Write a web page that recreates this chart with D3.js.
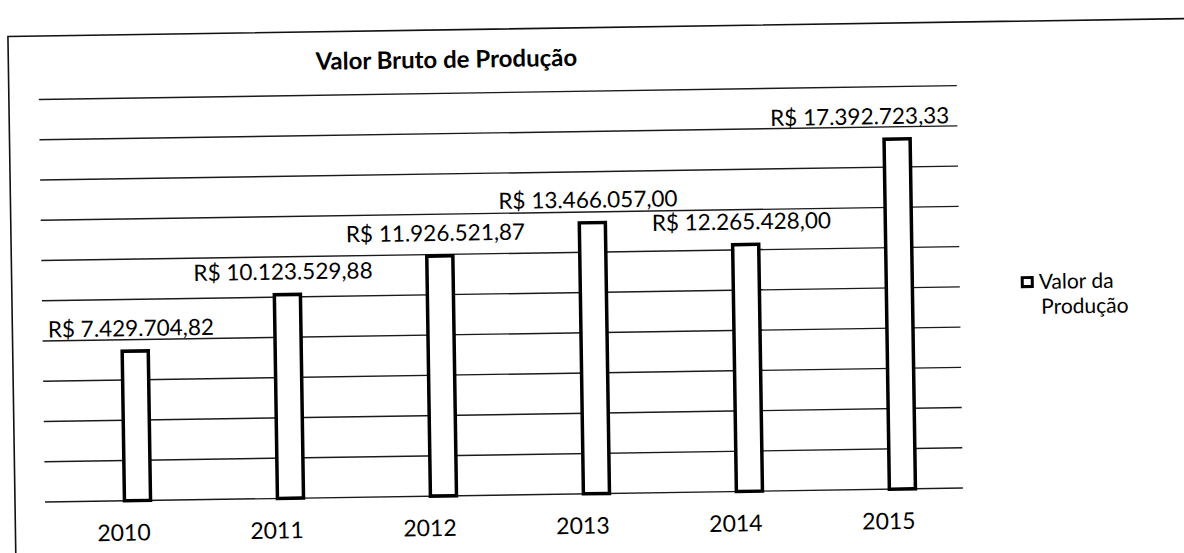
<!DOCTYPE html>
<html>
<head>
<meta charset="utf-8">
<script src="https://cdn.jsdelivr.net/npm/d3@7"></script>
<style>
body { margin: 0; background: #fff; }
svg { display: block; font-family: Lato, "Open Sans", sans-serif; }
</style>
</head>
<body>
<script>
// dados
var anos = ["2010", "2011", "2012", "2013", "2014", "2015"];
var valores = [7429704.82, 10123529.88, 11926521.87, 13466057.00, 12265428.00, 17392723.33];
var linhas = [0, 2e6, 4e6, 6e6, 8e6, 10e6, 12e6, 14e6, 16e6, 18e6, 20e6];
var titulo = "Valor Bruto de Produção";
var legenda = ["Valor da", "Produção"];

var br = d3.formatLocale({decimal: ",", thousands: ".", grouping: [3], currency: ["R$ ", ""]});
var moeda = br.format("$,.2f");

var width = 1184, height = 553;
var x0 = 45, x1 = 963, base = 502;

var svg = d3.select("body").append("svg")
	.attr("width", width)
	.attr("height", height);

// a folha digitalizada está levemente inclinada
var g = svg.append("g")
	.attr("transform", "rotate(-0.87," + x0 + "," + base + ")");

var y = d3.scaleLinear()
	.domain([0, 20e6])
	.range([base, base - 402.5]);

var x = d3.scaleBand()
	.domain(anos)
	.range([61, 979])
	.paddingInner(0.81)
	.paddingOuter(0.405);

// moldura
g.append("path")
	.attr("d", "M15,620 L15,36 L1300,36")
	.attr("fill", "none")
	.attr("stroke", "#111")
	.attr("stroke-width", 1.6);

// linhas de grade
g.selectAll(".grade")
	.data(linhas)
	.enter().append("line")
	.attr("class", "grade")
	.attr("x1", x0)
	.attr("x2", x1)
	.attr("y1", function(d) { return y(d); })
	.attr("y2", function(d) { return y(d); })
	.attr("stroke", "#1a1a1a")
	.attr("stroke-width", 1.4);

g.append("text")
	.attr("x", 453)
	.attr("y", 74)
	.attr("text-anchor", "middle")
	.attr("font-size", 24)
	.attr("font-weight", "bold")
	.attr("fill", "#000")
	.text(titulo);

var dados = anos.map(function(a, i) { return {ano: a, valor: valores[i]}; });

g.selectAll(".barra")
	.data(dados)
	.enter().append("rect")
	.attr("class", "barra")
	.attr("x", function(d) { return x(d.ano) + 1.5; })
	.attr("width", x.bandwidth() - 3)
	.attr("y", function(d) { return y(d.valor); })
	.attr("height", function(d) { return base - y(d.valor); })
	.attr("fill", "#fff")
	.attr("stroke", "#000")
	.attr("stroke-width", 3.5);

var rot = g.selectAll(".rotulo")
	.data(dados)
	.enter().append("text")
	.attr("class", "rotulo")
	.attr("y", function(d) { return y(d.valor) - 15; })
	.attr("text-anchor", "middle")
	.attr("font-size", 22.5)
	.attr("fill", "#000")
	.text(function(d) { return moeda(d.valor); });

rot.attr("x", function(d) {
	var c = x(d.ano) + x.bandwidth() / 2 - 4;
	var w = this.getComputedTextLength();
	return Math.min(c, x1 - 8 - w / 2);
});

g.selectAll(".ano")
	.data(anos)
	.enter().append("text")
	.attr("class", "ano")
	.attr("x", function(d) { return x(d) + x.bandwidth() / 2 - 14; })
	.attr("y", 542)
	.attr("text-anchor", "middle")
	.attr("font-size", 23)
	.attr("fill", "#000")
	.text(function(d) { return d; });

// legenda
var leg = g.append("g").attr("transform", "translate(1024,291)");
leg.append("rect")
	.attr("x", 1.5).attr("y", 1.5)
	.attr("width", 10).attr("height", 9)
	.attr("fill", "#fff")
	.attr("stroke", "#000")
	.attr("stroke-width", 3);
leg.selectAll("text")
	.data(legenda)
	.enter().append("text")
	.attr("x", function(d, i) { return i == 0 ? 18 : 20; })
	.attr("y", function(d, i) { return 13 + i * 25; })
	.attr("font-size", 21)
	.attr("fill", "#000")
	.text(function(d) { return d; });
</script>
</body>
</html>
